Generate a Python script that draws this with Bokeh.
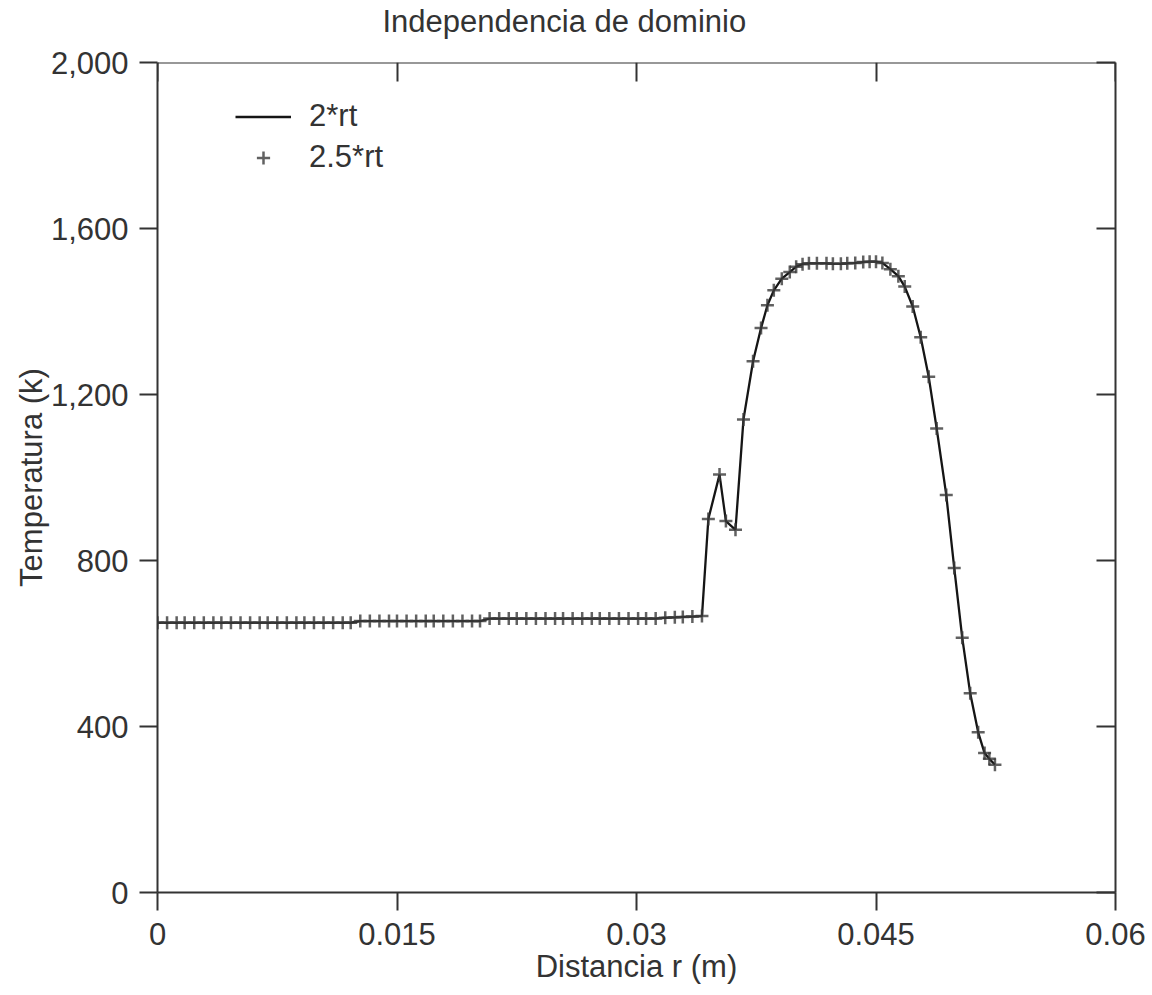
from bokeh.plotting import figure
from bokeh.models import (ColumnDataSource, LinearAxis, FixedTicker, NumeralTickFormatter,
                          Range1d, Legend, LegendItem, Title)
from bokeh.embed import file_html
from bokeh.resources import INLINE

title_text = "Independencia de dominio"
x_label = "Distancia r (m)"
y_label = "Temperatura (k)"
series_names = ["2*rt", "2.5*rt"]
x_ticks = [0, 0.015, 0.03, 0.045, 0.06]
x_tick_labels = ["0", "0.015", "0.03", "0.045", "0.06"]
y_ticks = [0, 400, 800, 1200, 1600, 2000]

# 2.5*rt (plus markers)
r_25rt = [
    0.0000, 0.0006, 0.0012, 0.0017, 0.0023, 0.0029, 0.0035, 0.0040, 0.0046, 0.0052,
    0.0058, 0.0064, 0.0069, 0.0075, 0.0081, 0.0087, 0.0092, 0.0098, 0.0104, 0.0110,
    0.0116, 0.0121, 0.0127, 0.0133, 0.0139, 0.0145, 0.0150, 0.0156, 0.0162, 0.0168,
    0.0173, 0.0179, 0.0185, 0.0191, 0.0197, 0.0202, 0.0208, 0.0214, 0.0220, 0.0225,
    0.0231, 0.0237, 0.0243, 0.0249, 0.0254, 0.0260, 0.0266, 0.0272, 0.0277, 0.0283,
    0.0289, 0.0295, 0.0301, 0.0306, 0.0312, 0.0318, 0.0324, 0.0329, 0.0335, 0.0341,
    0.0345, 0.0352, 0.0356, 0.0362, 0.0367, 0.0373, 0.0378, 0.0382, 0.0386, 0.0391,
    0.0396, 0.0400, 0.0404, 0.0408, 0.0413, 0.0419, 0.0423, 0.0428, 0.0432, 0.0437,
    0.0442, 0.0446, 0.0450, 0.0454, 0.0459, 0.0464, 0.0468, 0.0473, 0.0478, 0.0483,
    0.0488, 0.0494, 0.0499, 0.0504, 0.0509, 0.0514, 0.0518, 0.0521, 0.05245,
]
t_25rt = [
    650, 650, 650, 650, 650, 650, 650, 650, 650, 650,
    650, 650, 650, 650, 650, 650, 650, 650, 650, 650,
    650, 650, 654, 654, 654, 654, 654, 654, 654, 654,
    654, 654, 654, 654, 654, 654, 660, 660, 660, 660,
    660, 660, 660, 660, 660, 660, 660, 660, 660, 660,
    660, 660, 660, 660, 660, 662, 663, 664, 665, 666,
    900, 1007, 895, 874, 1140, 1280, 1360, 1415, 1451, 1479,
    1495, 1508, 1514, 1516, 1516, 1516, 1515, 1515, 1516, 1517,
    1519, 1520, 1520, 1517, 1502, 1485, 1460, 1412, 1338, 1243,
    1118, 958, 782, 614, 480, 386, 336, 322, 308,
]
# 2*rt (solid line) - coincides with the 2.5*rt result
r_2rt = list(r_25rt)
t_2rt = list(t_25rt)

FONT = "Liberation Sans"
TXT = "#333333"
AX = "#333333"

p = figure(width=1152, height=995, output_backend="svg", toolbar_location=None,
           x_range=Range1d(0, 0.06), y_range=Range1d(0, 2000),
           x_axis_location=None, y_axis_location=None,
           min_border_left=157, min_border_right=37, min_border_top=62, min_border_bottom=103)
p.xgrid.grid_line_color = None
p.ygrid.grid_line_color = None
p.outline_line_color = None
p.background_fill_color = "white"
p.border_fill_color = "white"


def style(ax, ticks, tin, tout, show_labels):
    ax.ticker = FixedTicker(ticks=ticks)
    ax.axis_line_color = AX
    ax.axis_line_width = 2
    ax.major_tick_line_color = AX
    ax.major_tick_line_width = 2
    ax.major_tick_in = tin
    ax.major_tick_out = tout
    ax.minor_tick_line_color = None
    ax.major_label_text_font = FONT
    ax.major_label_text_color = TXT
    ax.axis_label_text_font = FONT
    ax.axis_label_text_font_style = "normal"
    ax.axis_label_text_color = TXT
    if show_labels:
        ax.major_label_text_font_size = "31px"
    else:
        ax.major_label_text_font_size = "1px"
        ax.major_label_text_color = None
        ax.major_label_standoff = 0


bottom = LinearAxis(axis_label=x_label)
style(bottom, x_ticks, 0, 18, True)
bottom.major_label_overrides = {t: l for t, l in zip(x_ticks, x_tick_labels)}
bottom.major_label_standoff = 12
bottom.axis_label_text_font_size = "31px"
bottom.axis_label_standoff = 1
p.add_layout(bottom, "below")

left = LinearAxis(axis_label=y_label, formatter=NumeralTickFormatter(format="0,0"))
style(left, y_ticks, 0, 18, True)
left.major_label_standoff = 11
left.axis_label_text_font_size = "31px"
left.axis_label_standoff = -1
p.add_layout(left, "left")

# visible top border with inward ticks, pinned to the top of the frame
top = LinearAxis(fixed_location=y_ticks[-1])
style(top, x_ticks, 19, 0, False)
p.add_layout(top, "above")

# invisible spacer that keeps the title clear of the frame
spacer = LinearAxis()
style(spacer, x_ticks, 0, 22, False)
spacer.axis_line_color = None
spacer.major_tick_line_color = None
p.add_layout(spacer, "above")

right = LinearAxis()
style(right, y_ticks, 19, 0, False)
p.add_layout(right, "right")

p.title = Title(text=title_text, align="left", offset=225, standoff=0,
                vertical_align="top", text_font=FONT,
                text_font_size="31px", text_font_style="normal", text_color=TXT)

src_line = ColumnDataSource(data=dict(x=r_2rt, y=t_2rt))
src_pts = ColumnDataSource(data=dict(x=r_25rt, y=t_25rt))

line_r = p.line("x", "y", source=src_line, line_color="#151515", line_width=2.3)
pts_r = p.scatter("x", "y", source=src_pts, marker="cross", size=13,
                  line_color="#3a3a3a", line_width=2.5, line_alpha=0.8)

legend = Legend(items=[LegendItem(label=series_names[0], renderers=[line_r]),
                       LegendItem(label=series_names[1], renderers=[pts_r])],
                location=(78, 717), border_line_color=None, background_fill_alpha=0,
                label_text_font=FONT, label_text_font_size="31px", label_text_color=TXT,
                glyph_width=56, glyph_height=33, label_standoff=18, spacing=5,
                padding=0, margin=0)
p.add_layout(legend)

open("out.html", "w").write(file_html(p, INLINE))
